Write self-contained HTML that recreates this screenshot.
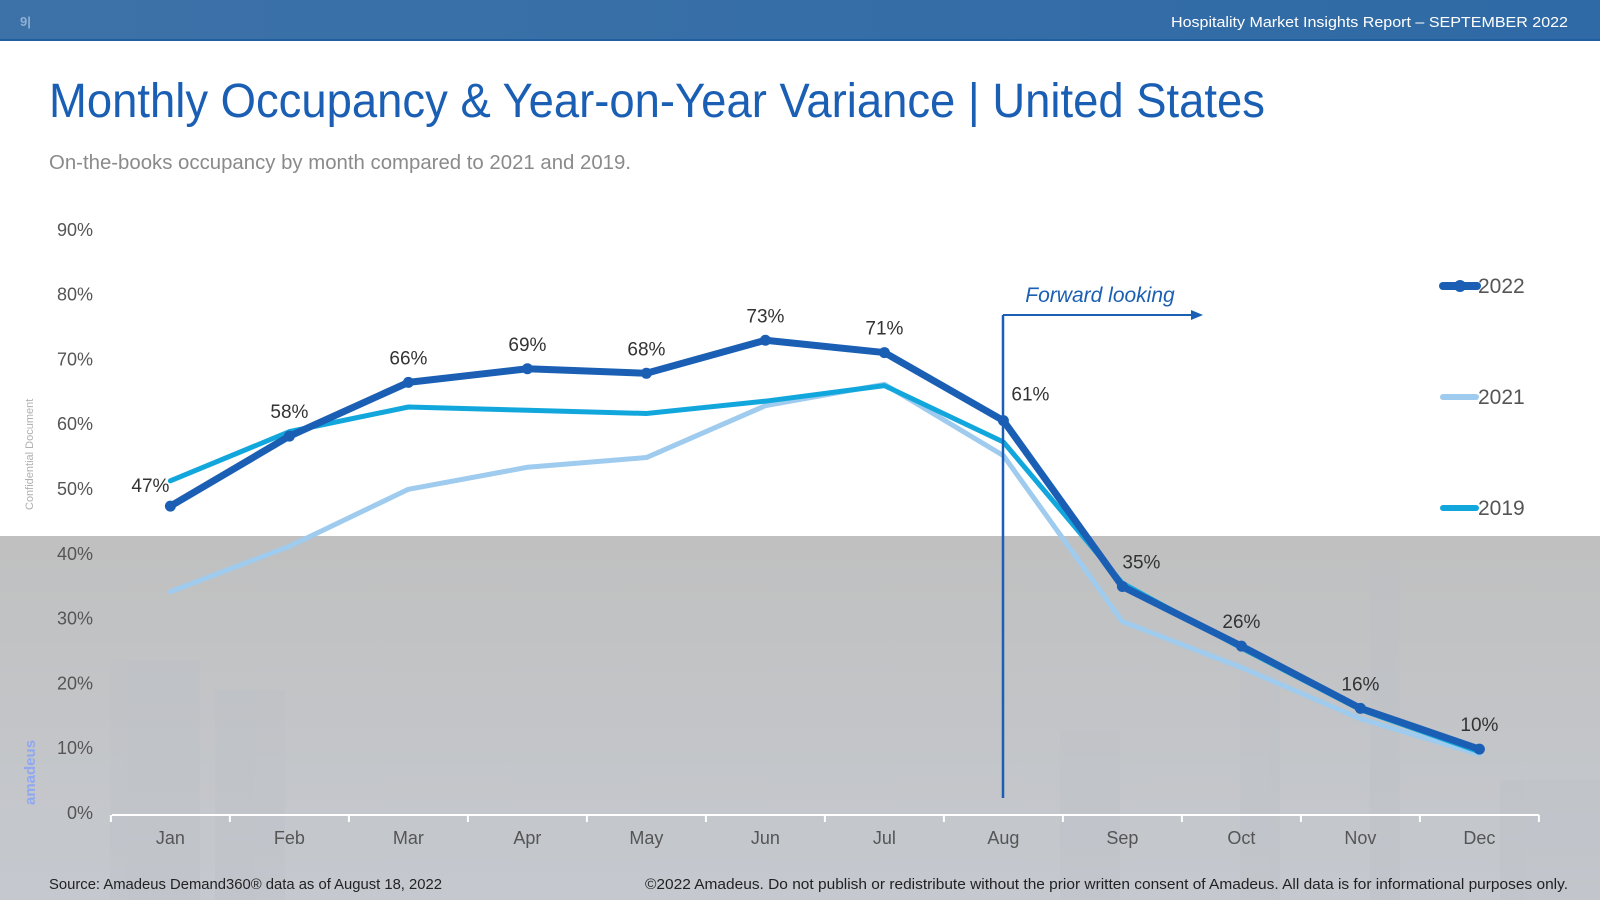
<!DOCTYPE html>
<html><head><meta charset="utf-8"><style>
html,body{margin:0;padding:0;width:1600px;height:900px;overflow:hidden;background:#fff;font-family:"Liberation Sans",sans-serif;}
</style></head><body>
<svg width="1600" height="900" viewBox="0 0 1600 900" xmlns="http://www.w3.org/2000/svg">
<defs>
<linearGradient id="hdr" x1="0" x2="1" y1="0" y2="0"><stop offset="0" stop-color="#3d72a8"/><stop offset="1" stop-color="#2f6aa6"/></linearGradient>
<linearGradient id="band" x1="0" x2="0" y1="0" y2="1"><stop offset="0" stop-color="#c0c0c0"/><stop offset="1" stop-color="#c5c9cf"/></linearGradient>
</defs>
<rect x="0" y="0" width="1600" height="40" fill="url(#hdr)"/>
<rect x="0" y="39" width="1600" height="2" fill="#1f5fa0"/>
<text x="20" y="26" font-size="13" fill="#8fb0d4" font-weight="bold">9|</text>
<text x="1568" y="27" font-size="15" fill="#ffffff" text-anchor="end" textLength="397" lengthAdjust="spacingAndGlyphs">Hospitality Market Insights Report – SEPTEMBER 2022</text>
<rect x="0" y="536" width="1600" height="364" fill="url(#band)"/>
<g fill="#bcc0c6" opacity="0.35">
<rect x="1060" y="730" width="60" height="170"/><rect x="1240" y="660" width="40" height="240"/><rect x="1370" y="560" width="30" height="340"/><rect x="1500" y="780" width="100" height="120"/><rect x="110" y="660" width="90" height="240"/><rect x="215" y="690" width="70" height="210"/>
</g>
<text x="49" y="117" font-size="48" fill="#1a5fb4" textLength="1216" lengthAdjust="spacingAndGlyphs">Monthly Occupancy &amp; Year-on-Year Variance | United States</text>
<text x="49" y="169" font-size="20" fill="#8a8a8a" textLength="582" lengthAdjust="spacingAndGlyphs">On-the-books occupancy by month compared to 2021 and 2019.</text>
<text transform="translate(33,510) rotate(-90)" font-size="11" fill="#b0b0b0">Confidential Document</text>
<text transform="translate(35,805) rotate(-90)" font-size="15" fill="#8fa8f0" font-weight="bold">amadeus</text>
<g id="axes"></g>
<g id="series"></g>
<g id="labels"></g>
<line x1="1003" y1="315" x2="1003" y2="798" stroke="#1a5fb4" stroke-width="2.5"/>
<line x1="1003" y1="315" x2="1195" y2="315" stroke="#1a5fb4" stroke-width="2"/>
<polygon points="1203,315 1191,310 1191,320" fill="#1a5fb4"/>
<text x="1100" y="302" font-size="21" font-style="italic" fill="#1a5fb4" text-anchor="middle">Forward looking</text>
<g>
<line x1="1443" y1="286" x2="1477" y2="286" stroke="#1a5fb4" stroke-width="8" stroke-linecap="round"/>
<circle cx="1460" cy="286" r="6" fill="#1a5fb4"/>
<text x="1478" y="293" font-size="21" fill="#555">2022</text>
<line x1="1443" y1="397" x2="1476" y2="397" stroke="#9ecbee" stroke-width="6" stroke-linecap="round"/>
<text x="1478" y="404" font-size="21" fill="#555">2021</text>
<line x1="1443" y1="508" x2="1476" y2="508" stroke="#12a7dc" stroke-width="6" stroke-linecap="round"/>
<text x="1478" y="515" font-size="21" fill="#555">2019</text>
</g>
<text x="49" y="889" font-size="14.5" fill="#222" textLength="393" lengthAdjust="spacingAndGlyphs">Source: Amadeus Demand360® data as of August 18, 2022</text>
<text x="1568" y="889" font-size="14.5" fill="#222" text-anchor="end" textLength="923" lengthAdjust="spacingAndGlyphs">©2022 Amadeus. Do not publish or redistribute without the prior written consent of Amadeus. All data is for informational purposes only.</text>
</svg>
<script>
const months = ["Jan","Feb","Mar","Apr","May","Jun","Jul","Aug","Sep","Oct","Nov","Dec"];
const yTicks = [0,10,20,30,40,50,60,70,80,90];
const occ2022 = [47.2,58,66.3,68.4,67.7,72.8,70.9,60.4,34.8,25.6,16,9.7];
const occ2021 = [34,41,49.8,53.2,54.7,62.7,66,55,29.4,22.3,14.4,8.9];
const occ2019 = [51.1,58.7,62.5,62,61.5,63.4,65.8,57.1,35.3,25.3,15.8,9.3];
const labels2022 = ["47%","58%","66%","69%","68%","73%","71%","61%","35%","26%","16%","10%"];

const NS="http://www.w3.org/2000/svg";
const x = i => 170.4 + i*119.0;
const y = v => 812 - v*6.48;
function mk(tag, attrs, parent){const e=document.createElementNS(NS,tag);for(const k in attrs)e.setAttribute(k,attrs[k]);parent.appendChild(e);return e;}
const axes=document.getElementById('axes'), series=document.getElementById('series'), lab=document.getElementById('labels');

yTicks.forEach(t=>{
  const e=mk('text',{x:93,y:y(t)+7,'font-size':18,fill:'#555','text-anchor':'end'},axes);
  
  
  e.textContent=t+'%';
});
const ax=mk('line',{x1:112,y1:815,x2:1539,y2:815,stroke:'#ffffff','stroke-width':2},axes);


for(let i=0;i<=12;i++){
  const tk=mk('line',{x1:x(i)-59.5,y1:815,x2:x(i)-59.5,y2:822,stroke:'#fff','stroke-width':2},axes);
  
  
}
months.forEach((m,i)=>{
  const e=mk('text',{x:x(i),y:844,'font-size':18,fill:'#555','text-anchor':'middle'},axes);
  
  
  e.textContent=m;
});
function line(data,color,w,name){
  const p=mk('polyline',{points:data.map((v,i)=>x(i)+','+y(v)).join(' '),fill:'none',stroke:color,'stroke-width':w,'stroke-linejoin':'round','stroke-linecap':'round'},series);
  
  
}
line(occ2021,'#9ecbee',5,'line-2021');
line(occ2019,'#12a7dc',5,'line-2019');
line(occ2022,'#1a5fb4',7,'line-2022');
occ2022.forEach((v,i)=>{
  const c=mk('circle',{cx:x(i),cy:y(v),r:5.5,fill:'#1a5fb4'},series);
  
  
  let dx=0,dy=-18;
  if(i===0){dx=-20;dy=-14;}
  if(i===7){dx=27;dy=-20;}
  if(i===8){dx=19;dy=-18;}
  const t=mk('text',{x:x(i)+dx,y:y(v)+dy,'font-size':19,fill:'#333','text-anchor':'middle'},lab);
  
  
  t.textContent=labels2022[i];
});
</script>
</body></html>
